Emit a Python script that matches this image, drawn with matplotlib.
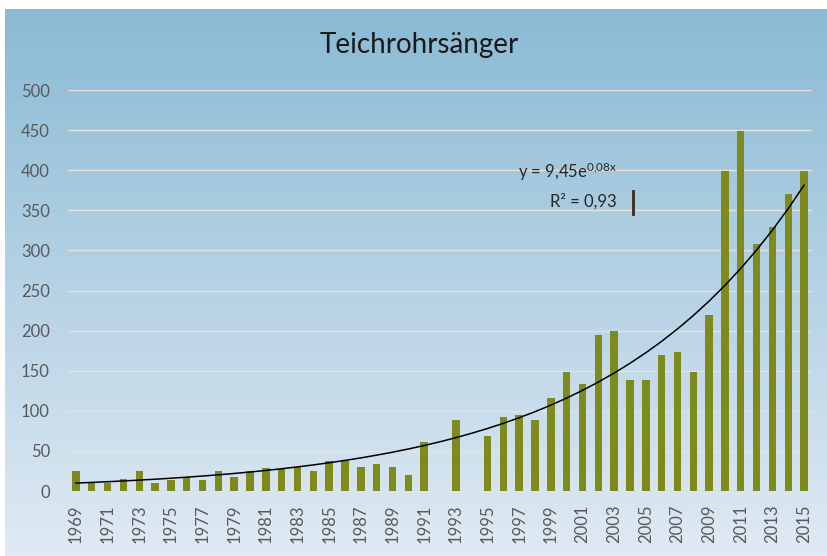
import numpy as np
import matplotlib
matplotlib.use("Agg")
import matplotlib.pyplot as plt

# yearly counts, None = no data
years = list(range(1969, 2016))
counts = [25, 10, 10, 15, 25, 10, 14, 18, 14, 25,
          18, 25, 29, 28, 30, 25, 38, 38, 30, 34,
          30, 20, 61, None, 89, None, 68, 92, 95, 88,
          116, 149, 133, 195, 199, 139, 139, 169, 173, 149,
          219, 399, 449, 308, 329, 370, 399]
title = "Teichrohrsänger"
eq_text = r"y = 9,45e$^{\mathrm{0{,}08x}}$"
r2_text = "R² = 0,93"

plt.rcParams["font.family"] = ["Lato", "DejaVu Sans"]
plt.rcParams["mathtext.fontset"] = "custom"
plt.rcParams["mathtext.rm"] = "Lato"
plt.rcParams["mathtext.it"] = "Lato"

W, H = 828, 556
fig = plt.figure(figsize=(W / 100, H / 100), dpi=100)

# gradient chart background
bg = fig.add_axes([5 / W, 0, 1 - 5 / W, (H - 9) / H])
top = np.array([0x8a, 0xba, 0xd5]) / 255
bot = np.array([0xe0, 0xea, 0xf4]) / 255
t = np.linspace(0, 1, 256)[:, None]
grad = (top * (1 - t) + bot * t)[:, None, :]
bg.imshow(grad, aspect="auto", extent=[0, 1, 0, 1])
bg.set_axis_off()

# plot area
x0, x1 = 68, 812
y0, y1 = 491, 90
ax = fig.add_axes([x0 / W, (H - y0) / H, (x1 - x0) / W, (y0 - y1) / H])
ax.patch.set_alpha(0)

idx = np.arange(len(years))
vals = np.array([np.nan if v is None else v for v in counts], dtype=float)
ax.bar(idx, np.nan_to_num(vals), width=0.47, color="#7e8a1c", zorder=3)

# exponential trendline (Excel style, x = 1..n, blanks skipped)
xs = idx + 1
ok = ~np.isnan(vals)
b, ln_a = np.polyfit(xs[ok], np.log(vals[ok]), 1)
ax.plot(idx, np.exp(ln_a) * np.exp(b * xs), color="black", lw=1.1, zorder=4)

ax.set_xlim(-0.5, len(years) - 0.5)
ax.set_ylim(0, 500)
ax.set_yticks(range(0, 501, 50))
ax.set_xticks(idx[::2])
ax.set_xticklabels([str(y) for y in years[::2]], rotation=90)
ax.tick_params(axis="both", length=0, labelsize=12, colors="#595959")
ax.tick_params(axis="y", pad=13)
ax.tick_params(axis="x", pad=10)
ax.grid(axis="y", color="#e9e2da", lw=1, zorder=0)
for s in ax.spines.values():
    s.set_visible(False)
ax.axhline(0, color="#e4ddd6", lw=1, zorder=2)

fig.text(419 / W, 1 - 45 / H, title, ha="center", va="center", fontsize=20, color="#1a1a1a")
fig.text(518 / W, 1 - 172 / H, eq_text, ha="left", va="center", fontsize=12, color="#262626")
fig.text(617 / W, 1 - 201 / H, r2_text, ha="right", va="center", fontsize=12, color="#262626")
fig.add_artist(plt.Line2D([633 / W, 633 / W], [1 - 191 / H, 1 - 214 / H], color="#3d2a1a", lw=2))

fig.savefig("out.png", dpi=100)
